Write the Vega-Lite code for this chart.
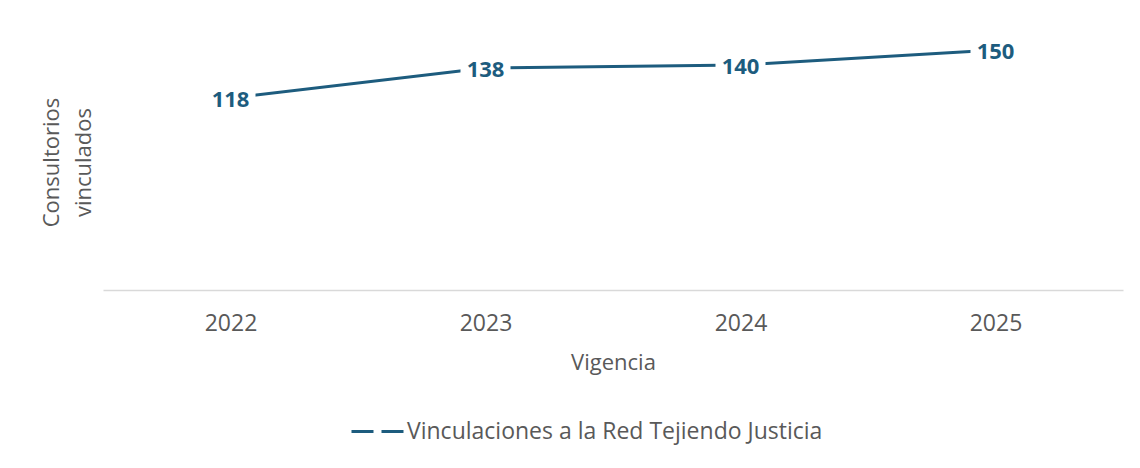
{
  "$schema": "https://vega.github.io/schema/vega-lite/v6.json",
  "width": 1020,
  "height": 270,
  "autosize": "none",
  "padding": {"left": 103, "top": 20, "right": 17, "bottom": 178},
  "background": "white",
  "config": {"view": {"stroke": null}, "font": "Open Sans"},
  "data": {"values": [
    {"anio": "2022", "valor": 118, "serie": "Vinculaciones a la Red Tejiendo Justicia"},
    {"anio": "2023", "valor": 138, "serie": "Vinculaciones a la Red Tejiendo Justicia"},
    {"anio": "2024", "valor": 140, "serie": "Vinculaciones a la Red Tejiendo Justicia"},
    {"anio": "2025", "valor": 150, "serie": "Vinculaciones a la Red Tejiendo Justicia"}
  ]},
  "encoding": {
    "x": {
      "field": "anio", "type": "ordinal",
      "scale": {"type": "point", "padding": 0.5},
      "axis": {
        "title": "Vigencia", "labelAngle": 0, "labelFontSize": 23, "labelColor": "#595959",
        "ticks": false, "domainColor": "#d9d9d9", "domainWidth": 1.5, "labelPadding": 22,
        "titleFontSize": 22, "titleFontWeight": "normal", "titleColor": "#595959", "titlePadding": 17, "grid": false
      }
    },
    "y": {
      "field": "valor", "type": "quantitative",
      "scale": {"domain": [-10, 170]},
      "axis": {
        "title": ["Consultorios", "vinculados"], "labels": false, "ticks": false, "domain": false, "grid": false,
        "titleFontSize": 22, "titleColor": "#595959", "titleFontWeight": "normal", "titlePadding": 8, "titleLineHeight": 32,
        "titleY": 142
      }
    }
  },
  "layer": [
    {
      "mark": {"type": "line", "strokeWidth": 3},
      "encoding": {
        "color": {
          "field": "serie", "type": "nominal",
          "scale": {"range": ["#1d5c7e"]},
          "legend": {
            "orient": "none", "legendX": 247, "legendY": 384, "title": null, "symbolType": "stroke", "symbolStrokeWidth": 3,
            "symbolSize": 2704, "symbolDash": [22, 8], "labelFontSize": 23, "labelColor": "#595959",
            "labelLimit": 0, "labelOffset": 2
          }
        }
      }
    },
    {
      "mark": {"type": "point", "shape": "M-1,-0.5L1,-0.5L1,0.5L-1,0.5Z", "filled": true, "fill": "white", "opacity": 1, "size": 2500, "strokeWidth": 0}
    },
    {
      "mark": {"type": "text", "fontWeight": "bold", "fontSize": 22, "color": "#1d5c7e", "baseline": "middle", "dy": 2},
      "encoding": {"text": {"field": "valor", "type": "quantitative"}}
    }
  ]
}
